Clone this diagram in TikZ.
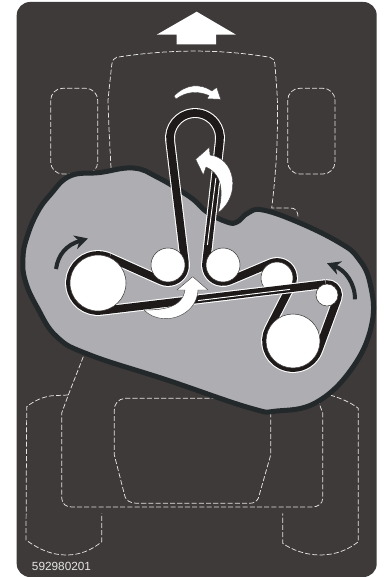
\documentclass[tikz,border=0pt]{standalone}
\usepackage{fontspec}
\setmainfont{Liberation Sans}
\usetikzlibrary{arrows.meta, positioning}
\definecolor{panelgrey}{HTML}{3E3A39}
\definecolor{deckgrey}{HTML}{ADADB2}
\definecolor{deckedge}{HTML}{23282A}
\definecolor{beltblack}{HTML}{1E1A1A}
\tikzset{
  outline/.style={
    draw=white!90!black,
    line width=0.55pt,
    dash pattern=on 3.8pt off 1.6pt
  },
  belt/.style={
    draw=white,
    line width=0.8pt,
    double=beltblack,
    double distance=5.8pt,
    line join=round
  },
  pulley/.style={
    circle,
    draw=panelgrey,
    fill=white,
    line width=0.4pt,
    inner sep=0pt
  },
  turnarrow/.style={
    fill=white,
    draw=panelgrey,
    line width=0.3pt,
    line join=round
  },
  spinarrow/.style={
    draw=deckedge,
    line width=3pt,
    -{Stealth[length=10pt, width=10.5pt]}
  }
}
\begin{document}
\begin{tikzpicture}[x=0.75pt, y=-0.75pt]
  \useasboundingbox (0,0) rectangle (383,577);
  \fill[panelgrey, rounded corners=10pt] (16.7,2) rectangle (376.7,577);

  \fill[white] (196.7,11.7) -- (236,34.7) -- (216,34.7) -- (216,44.3)
    -- (176.7,44.3) -- (176.7,34.7) -- (156.7,34.7) -- cycle;

  \draw[outline] (111,168) .. controls (109,130) and (107.5,100) .. (108.3,97)
    -- (111.7,65) .. controls (112.5,60) and (114,58) .. (116.7,57.3)
    .. controls (170,49) and (220,49) .. (270,57.3)
    .. controls (273,58) and (274.5,60) .. (275,65)
    -- (277.3,97) .. controls (278,130) and (277,165) .. (271.7,208)
    -- (290,208) .. controls (295,208) and (298,210) .. (298,218);
  \draw[outline, rounded corners=9pt] (50.7,88.3) rectangle (97.7,174);
  \draw[outline, rounded corners=9pt] (287.7,88.3) rectangle (335,174);

  \draw[outline] (83.3,356.7) -- (68.3,395) -- (61.7,413) -- (61.7,498)
    .. controls (62,504) and (66,507) .. (71.7,507) -- (311.7,507)
    .. controls (318,507) and (322.7,504) .. (322.7,498)
    -- (322.7,413) -- (319,403);
  \draw[outline] (68.3,395) -- (52,395.7) .. controls (42,397) and (34,401) .. (26.7,406.7)
    -- (26,540) .. controls (40,550) and (52,555) .. (66.7,555)
    .. controls (80,555) and (92,550) .. (101.7,541.7) -- (101.7,513.3);
  \draw[outline] (330,395) .. controls (340,398) and (350,402) .. (358.3,408.3)
    -- (358.3,541.7) .. controls (348,550) and (335,555) .. (320,555)
    .. controls (306,555) and (292,550) .. (282.7,543.3) -- (282.7,513.3);
  \draw[outline] (216.7,398.3) -- (125,398.3) .. controls (118,399) and (114.3,404) .. (114.3,410)
    -- (114.3,455) -- (125,496.7) .. controls (126,500) and (130,503.3) .. (136.7,503.3)
    -- (250,503.3) .. controls (254,503.3) and (257,501) .. (258.3,498.3)
    -- (270.7,455) -- (270.7,411.7);

  \draw[fill=deckgrey, draw=deckedge, line width=3.75pt, line join=round]
    plot[smooth cycle, tension=0.7] coordinates {
      (70,176) (100,172.5) (133,168) (157,177) (190,197) (207,212) (227,222)
      (237,222) (248,213) (263,210) (300,223) (340,243) (358,258) (370,283)
      (372,323) (353,367) (317,402) (277,411) (250,408) (167,380) (90,355)
      (57,337) (37,307) (25,280) (23,257) (27,237) (37,213) (50,195)
    };

  \draw[spinarrow] (56,269) .. controls (58,255) and (66,245) .. (88,238.5);
  \draw[spinarrow] (355,299.3) .. controls (355,283) and (345,270) .. (327,263.3);

  \draw[belt] (109.43,257.44) -- (161.06,280.52)
    arc[start angle=114.09, end angle=-6.87, radius=17] -- (170.18,140.99)
    arc[start angle=-186.87, end angle=6.4, radius=25] -- (206.11,263.10)
    arc[start angle=186.4, end angle=67.09, radius=17] -- (270.77,263.26)
    arc[start angle=-112.91, end angle=27.16, radius=16] -- (268.98,328.67)
    arc[start angle=207.16, end angle=20.23, radius=27] -- (337.32,298.80)
    arc[start angle=20.23, end angle=-96.79, radius=11];

  \node[pulley, minimum size=25.5pt] (leftidler) at (168,265) {};
  \node[pulley, minimum size=25.5pt] (rightidler) at (223,265) {};
  \node[pulley, minimum size=24pt] (upperidler) at (277,278) {};
  \node[pulley, minimum size=40.5pt] (lowerdeck) at (293,341) {};

  \draw[belt] (325.70,284.08) -- (101.31,310.80)
    arc[start angle=83.21, end angle=294.09, radius=28];
  \draw[white, line width=0.7pt] (198,300.6) -- (290,289.4);
  \draw[white, line width=0.7pt] (215.9,178) -- (207.4,245);

  \node[pulley, minimum size=42pt] (drive) at (98,283) {};
  \node[pulley, minimum size=16.5pt] (tension) at (327,295) {};

  \fill[turnarrow] (174,96) .. controls (186,84) and (200,83) .. (212,91)
    -- (216.7,87.3) -- (220.7,99.3) -- (207,98.7) -- (209,95.5)
    .. controls (198,91) and (187,91) .. (176,99) -- cycle;
  \draw[turnarrow] (195.7,159.3) -- (209.3,147.3) -- (210,155)
    .. controls (235,158) and (242,195) .. (218,213)
    .. controls (223,195) and (224,175) .. (206,167)
    -- (203.3,175) -- cycle;
  \draw[turnarrow] (192.7,276.7) -- (208,290) -- (198,290)
    .. controls (197,310) and (178,320) .. (163,318.5)
    .. controls (155,318) and (149,315) .. (144,310)
    .. controls (160,310) and (182,309) .. (185,290)
    -- (177,290) -- cycle;

  \node[anchor=base west, inner sep=0pt, text=white!90!black, font=\fontsize{8.85pt}{10pt}\selectfont]
    (partno) at (31.7,570) {592980201};
\end{tikzpicture}
\end{document}
